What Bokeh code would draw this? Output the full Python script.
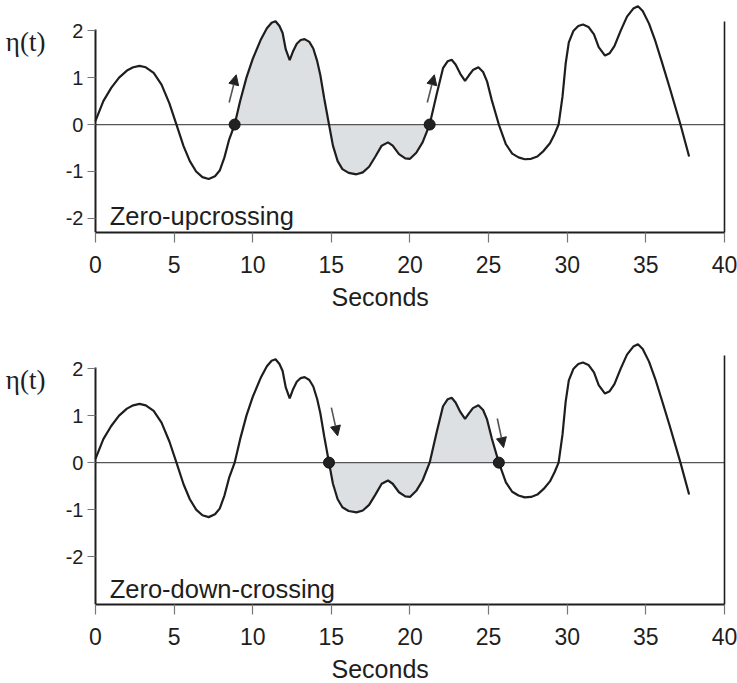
from bokeh.plotting import figure
from bokeh.models import Range1d, LinearAxis, FixedTicker, Arrow, NormalHead, Label, Title
from bokeh.layouts import column
from bokeh.embed import file_html
from bokeh.resources import INLINE

# ---- data ----
t = [0.0, 0.5, 1.0, 1.5, 2.0, 2.4, 2.8, 3.2, 3.7, 4.2, 4.7, 5.15, 5.6, 6.0, 6.4, 6.8,
     7.2, 7.6, 7.9, 8.2, 8.5, 8.85, 9.2, 9.6, 10.0, 10.5, 10.9, 11.2, 11.45, 11.7,
     11.9, 12.1, 12.35, 12.55, 12.8, 13.05, 13.3, 13.6, 13.85, 14.1, 14.3, 14.55,
     14.85, 15.1, 15.4, 15.7, 16.1, 16.6, 17.0, 17.4, 17.8, 18.2, 18.6, 18.9, 19.3,
     19.7, 20.0, 20.4, 20.8, 21.25, 21.7, 22.1, 22.4, 22.65, 22.9, 23.2, 23.5, 23.75,
     24.0, 24.35, 24.65, 24.9, 25.2, 25.65, 26.1, 26.5, 26.9, 27.3, 27.7, 28.1, 28.5,
     28.9, 29.2, 29.45, 29.7, 29.9, 30.1, 30.4, 30.7, 31.0, 31.35, 31.7, 32.0, 32.4,
     32.7, 33.0, 33.4, 33.8, 34.2, 34.5, 34.8, 35.2, 35.6, 36.0, 36.5, 37.2, 37.75]
eta = [0.08, 0.5, 0.78, 1.0, 1.15, 1.22, 1.25, 1.22, 1.1, 0.85, 0.45, 0.0, -0.46, -0.78,
       -1.0, -1.12, -1.16, -1.1, -0.98, -0.7, -0.32, 0.0, 0.5, 1.0, 1.4, 1.8, 2.05, 2.17,
       2.2, 2.1, 1.95, 1.6, 1.37, 1.55, 1.72, 1.8, 1.82, 1.76, 1.62, 1.35, 1.05, 0.55,
       0.0, -0.45, -0.78, -0.95, -1.03, -1.06, -1.02, -0.9, -0.68, -0.45, -0.38, -0.45,
       -0.63, -0.72, -0.73, -0.6, -0.38, 0.0, 0.65, 1.2, 1.35, 1.38, 1.28, 1.08, 0.93,
       1.05, 1.16, 1.22, 1.12, 0.92, 0.52, 0.0, -0.42, -0.62, -0.7, -0.74, -0.73, -0.68,
       -0.56, -0.4, -0.2, 0.0, 0.6, 1.3, 1.75, 2.0, 2.1, 2.13, 2.08, 1.92, 1.65, 1.47,
       1.52, 1.67, 2.0, 2.3, 2.47, 2.52, 2.42, 2.15, 1.78, 1.35, 0.8, 0.0, -0.68]

x_ticks = [0, 5, 10, 15, 20, 25, 30, 35, 40]
y_ticks = [-2, -1, 0, 1, 2]
y_tick_labels = {-2: "-2", -1: "-1", 0: "0", 1: "1", 2: "2"}

# upcrossing panel
up_shade = (8.85, 21.25)
up_dots = [8.85, 21.25]
up_arrows = [(8.5, 0.47, 8.95, 1.06), (21.1, 0.47, 21.55, 1.06)]
# downcrossing panel
down_shade = (14.85, 25.65)
down_dots = [14.85, 25.65]
down_arrows = [(15.0, 1.17, 15.4, 0.57), (25.55, 0.94, 25.95, 0.32)]

FONT = "Liberation Sans"
INK = "#1e1e1e"


def panel(y0, y1, frame_h, border_bottom, shade, dots, arrows, label, label_y,
          right_top):
    p = figure(output_backend="svg", toolbar_location=None,
               frame_width=724, frame_height=frame_h,
               min_border_left=0, min_border_right=13, min_border_top=2,
               min_border_bottom=border_bottom,
               x_range=Range1d(-6.04, 40), y_range=Range1d(y0, y1))
    p.outline_line_color = None
    p.grid.visible = False
    p.background_fill_color = "white"
    p.border_fill_color = "white"

    xa = p.xaxis[0]
    xa.ticker = FixedTicker(ticks=x_ticks)
    xa.bounds = (0, 40)
    xa.axis_line_width = 2
    xa.axis_line_color = INK
    xa.major_tick_line_color = "#777"
    xa.major_tick_line_width = 1.2
    xa.major_tick_out = 10
    xa.major_tick_in = 0
    xa.minor_tick_line_color = None
    xa.major_label_text_font = FONT
    xa.major_label_text_font_size = "23px"
    xa.major_label_text_color = INK
    xa.major_label_standoff = 13

    p.add_layout(Title(text="Seconds", align="left", offset=331, standoff=10,
                       text_font=FONT, text_font_size="25px",
                       text_font_style="normal", text_color=INK), "below")

    ya = p.yaxis[0]
    ya.fixed_location = 0
    ya.ticker = FixedTicker(ticks=y_ticks)
    ya.major_label_overrides = y_tick_labels
    ya.bounds = (y0, 2.02)
    ya.axis_line_width = 2
    ya.axis_line_color = INK
    ya.major_tick_line_color = "#777"
    ya.major_tick_line_width = 1.2
    ya.major_tick_out = 8
    ya.major_tick_in = 0
    ya.minor_tick_line_color = None
    ya.major_label_text_font = FONT
    ya.major_label_text_font_size = "20px"
    ya.major_label_text_color = INK
    ya.major_label_standoff = 4

    ra = LinearAxis(ticker=FixedTicker(ticks=[]), bounds=(y0, right_top),
                    axis_line_width=1.6, axis_line_color=INK,
                    major_tick_line_color=None, minor_tick_line_color=None,
                    major_label_text_font_size="0px")
    p.add_layout(ra, "right")

    # shaded region between curve and zero
    xs = [a for a in t if shade[0] <= a <= shade[1]]
    ys = [b for a, b in zip(t, eta) if shade[0] <= a <= shade[1]]
    p.varea(x=xs, y1=0, y2=ys, fill_color="#dde0e3", fill_alpha=1.0)

    p.segment(x0=[0], y0=[0], x1=[40], y1=[0], line_color="#555", line_width=1.2)

    p.line(t, eta, line_color=INK, line_width=2.2)

    p.scatter(x=dots, y=[0] * len(dots), size=11, fill_color="#222",
              line_color="#111")

    for (xs0, ys0, xe, ye) in arrows:
        p.add_layout(Arrow(end=NormalHead(size=10, fill_color="#222",
                                          line_color="#222"),
                           x_start=xs0, y_start=ys0, x_end=xe, y_end=ye,
                           line_color="#555", line_width=1.6))

    p.add_layout(Label(x=0.9, y=label_y, text=label, text_font=FONT,
                       text_font_size="25.5px", text_color=INK,
                       text_baseline="alphabetic", text_align="left"))
    p.add_layout(Label(x=-5.7, y=1.76, text="η(t)", text_font="Liberation Serif",
                       text_font_size="27px", text_color=INK,
                       text_baseline="middle", text_align="left"))
    return p


p1 = panel(-2.3, 2.6, 230, 98, up_shade, up_dots, up_arrows,
           "Zero-upcrossing", -1.95, 2.19)
p2 = panel(-3.02, 2.77, 272, 79, down_shade, down_dots, down_arrows,
           "Zero-down-crossing", -2.7, 2.28)

layout = column(p1, p2)
open("out.html", "w").write(file_html(layout, INLINE))
